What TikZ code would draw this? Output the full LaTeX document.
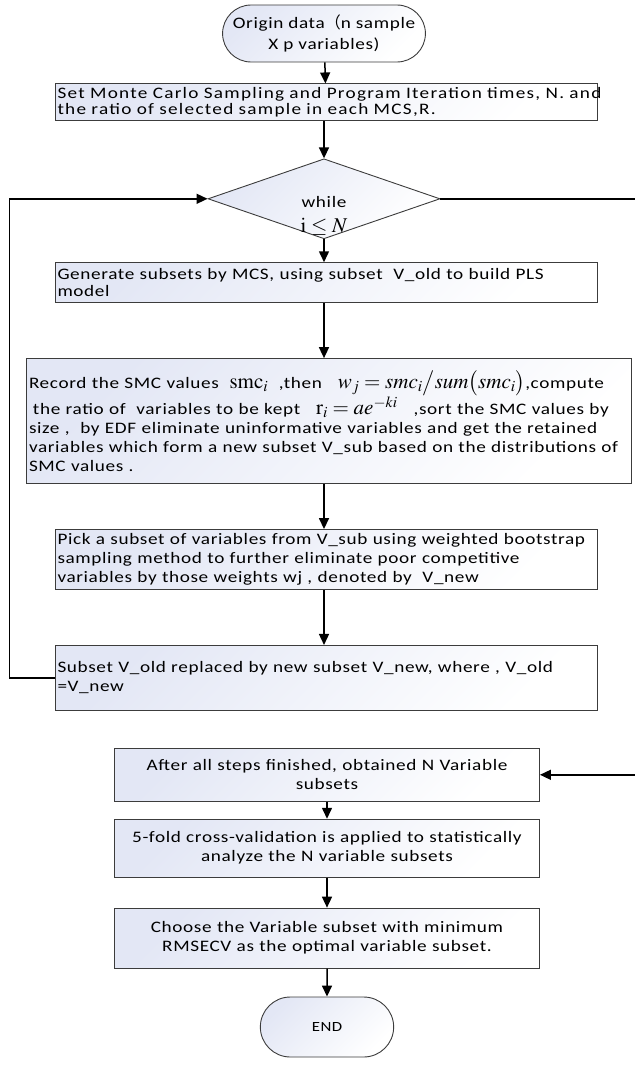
\documentclass[tikz,border=0pt]{standalone}
\usepackage{mathptmx}
\usepackage[no-math]{fontspec}
\setmainfont{Carlito}[FakeStretch=1.2,LetterSpace=4]
\newfontfamily\cjkfont{Noto Sans CJK SC}
\usepackage{tikz}
\usetikzlibrary{positioning, shapes.geometric, shapes.misc, arrows.meta}

\definecolor{boxshade}{HTML}{E3E7F5}
\definecolor{boxline}{HTML}{3C3C3C}
\newcommand{\boxfont}{\fontsize{16}{19}\selectfont}
\newcommand{\eqfont}{\fontsize{21}{19}\selectfont}

\begin{document}
\begin{tikzpicture}[x=1pt, y=-1pt,
            process/.style={draw=boxline, line width=0.9pt, rectangle, top color=boxshade, bottom color=white, shading angle=45, inner xsep=2.5pt, inner ysep=2pt, text width=#1, align=left, font=\boxfont},
            block/.style={process=#1, align=center},
            terminal/.style={draw=boxline, line width=0.9pt, rounded rectangle, top color=boxshade, bottom color=white, shading angle=45, align=center, font=\boxfont},
            decision/.style={draw=boxline, line width=0.9pt, diamond, top color=boxshade, bottom color=white, shading angle=45, minimum width=232pt, minimum height=80pt, inner sep=0pt},
            condlabel/.style={font=\boxfont, inner sep=0pt},
            flow/.style={line width=1.5pt, -{Triangle[length=11pt, width=10pt]}}
        ]
        \useasboundingbox (0,0) rectangle (634,1075);

        % Bloecke
        \node[terminal, minimum width=192pt, minimum height=57pt, font=\fontsize{16}{21}\selectfont] (start) at (324,33.5) {Origin data{\cjkfont （}n sample\\X p variables)};
        \node[process=537pt, minimum height=37pt, below=21pt of start, xshift=2pt, font=\fontsize{16}{16}\selectfont\addfontfeatures{LetterSpace=8}] (mcs) {\mbox{Set Monte Carlo Sampling and Program Iteration times, N. and}\\the ratio of selected sample in each MCS,R.};
        \node[decision, below=37pt of mcs, xshift=-2pt] (loop) {};
        \node[condlabel] (while) at ([yshift=-3pt]loop.center) {while};
        \node[condlabel] (cond) at ([yshift=-28pt]loop.center) {\eqfont$\mathrm{i}\le N$};
        \node[process=537pt, minimum height=40pt, below=23pt of loop, xshift=2pt, font=\fontsize{16}{17}\selectfont] (gen) {Generate subsets by MCS, using subset\ \ V\_old to build PLS\\model};
        \node[process=600pt, minimum height=125pt, below=55pt of gen, xshift=3pt] (smc) {\mbox{Record the SMC values \ {\eqfont$\mathrm{smc}_i$}\ \ ,then\ \ \ {\eqfont$w_j = smc_i\big/sum\bigl(smc_i\bigr)$},compute}\\\mbox{\hspace*{4pt}the ratio of\ \ variables to be kept\ \ \ {\eqfont$\mathrm{r}_i = ae^{-ki}$}\ \ \ ,sort the SMC values by}\\\mbox{size ,\ \ by EDF eliminate uninformative variables and get the retained}\\\mbox{variables which form a new subset V\_sub\ based on\ the distributions of}\\SMC values .};
        \node[process=537pt, minimum height=60pt, below=45pt of smc, xshift=-3pt] (pick) {\mbox{Pick a subset of variables from V\_sub using weighted bootstrap}\\sampling method to further eliminate poor competitive\\variables by those weights wj , denoted by\ \ V\_new};
        \node[process=537pt, minimum height=65pt, below=55pt of pick] (update) {\mbox{Subset V\_old replaced by new subset V\_new, where , V\_old}\\=V\_new};
        \node[block=420pt, minimum height=53pt, below=37pt of update, xshift=1pt] (collect) {After all steps finished, obtained N Variable\\subsets};
        \node[block=420pt, minimum height=58pt, below=17pt of collect] (cv) {5-fold cross-validation is applied to statistically\\analyze the N variable subsets};
        \node[block=420pt, minimum height=60pt, below=30pt of cv] (choose) {Choose the Variable subset with minimum\\RMSECV as the optimal variable subset.};
        \node[terminal, minimum width=140pt, minimum height=60pt, below=28pt of choose, font=\fontsize{14}{16}\selectfont] (stop) {END};

        % Pfeile
        \draw[flow] (start) -- (mcs);
        \draw[flow] (mcs.south -| loop) -- (loop);
        \draw[flow] (loop) -- (gen.north -| loop);
        \draw[flow] (gen.south -| loop) -- (smc.north -| loop);
        \draw[flow] (smc.south -| loop) -- (pick.north -| loop);
        \draw[flow] (pick.south -| loop) -- (update.north -| loop);
        \draw[flow] (update.west) -- ++(-45pt,0) |- (loop.west);
        \draw[flow] (loop.east) -- ++(195pt,0) |- (collect.east);
        \draw[flow] (collect) -- (cv);
        \draw[flow] (cv) -- (choose);
        \draw[flow] (choose) -- (stop);

    \end{tikzpicture}
\end{document}
